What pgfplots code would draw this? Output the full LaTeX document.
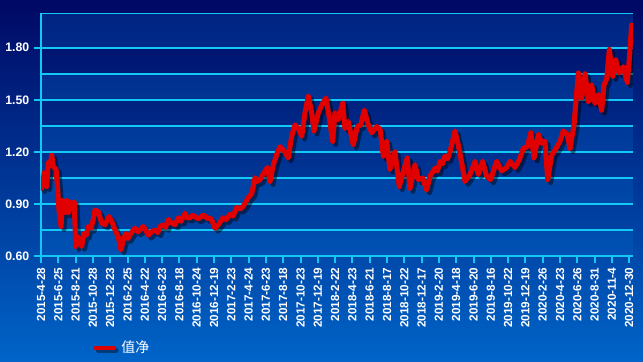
\documentclass[border=0pt]{standalone}
\usepackage{pgfplots}
\usepackage{pgfplotstable}
\pgfplotsset{compat=1.18}
\usepackage{fontspec}
\setmainfont{Liberation Sans}
\newfontfamily\cjk{Noto Sans CJK SC}
\definecolor{gridc}{RGB}{20,200,245}
\definecolor{bgtop}{RGB}{0,8,100}
\definecolor{bgbot}{RGB}{0,100,200}
\definecolor{band}{RGB}{0,110,210}
\definecolor{linered}{RGB}{225,0,0}

\pgfplotstableread{
x y
0.00 1.04
0.04 0.99
0.19 1.08
0.33 1.00
0.42 1.14
0.52 1.12
0.62 1.18
0.71 1.115
0.87 1.10
0.97 0.98
1.04 0.865
1.16 0.77
1.23 0.92
1.39 0.85
1.49 0.92
1.58 0.85
1.73 0.91
1.87 0.885
1.92 0.91
2.01 0.655
2.16 0.71
2.35 0.655
2.50 0.73
2.62 0.72
2.73 0.77
2.89 0.76
3.02 0.81
3.12 0.865
3.31 0.855
3.51 0.79
3.70 0.78
3.93 0.827
4.09 0.80
4.28 0.75
4.47 0.71
4.62 0.635
4.76 0.69
4.90 0.73
5.02 0.70
5.14 0.72
5.30 0.745
5.43 0.76
5.60 0.74
5.72 0.75
5.91 0.77
6.05 0.75
6.20 0.72
6.40 0.74
6.59 0.75
6.75 0.735
6.88 0.77
7.07 0.78
7.20 0.765
7.36 0.81
7.55 0.79
7.75 0.78
7.94 0.82
8.10 0.80
8.32 0.846
8.45 0.82
8.61 0.82
8.75 0.835
8.90 0.827
9.05 0.815
9.19 0.82
9.35 0.835
9.48 0.83
9.62 0.815
9.77 0.82
9.90 0.80
10.06 0.76
10.25 0.78
10.52 0.82
10.70 0.81
10.92 0.84
11.10 0.83
11.31 0.88
11.50 0.87
11.68 0.885
11.97 0.935
12.18 0.96
12.37 1.05
12.50 1.03
12.66 1.04
12.89 1.08
13.08 1.11
13.24 1.03
13.43 1.125
13.66 1.195
13.82 1.23
14.10 1.20
14.29 1.165
14.49 1.29
14.68 1.355
14.87 1.335
15.07 1.29
15.26 1.425
15.45 1.52
15.65 1.425
15.78 1.32
16.03 1.425
16.23 1.47
16.47 1.51
16.66 1.40
16.86 1.26
16.99 1.425
17.18 1.385
17.44 1.48
17.57 1.335
17.76 1.375
18.05 1.24
18.28 1.345
18.48 1.355
18.69 1.44
18.92 1.355
19.12 1.31
19.40 1.345
19.60 1.33
19.79 1.175
19.98 1.26
20.17 1.10
20.46 1.20
20.71 1.00
20.91 1.075
21.17 1.165
21.33 0.99
21.62 1.125
21.81 1.04
22.06 1.05
22.29 0.98
22.49 1.06
22.77 1.105
22.92 1.09
23.06 1.145
23.20 1.13
23.35 1.175
23.50 1.16
23.64 1.20
23.93 1.32
24.12 1.24
24.32 1.135
24.51 1.03
24.80 1.07
25.09 1.145
25.28 1.07
25.53 1.145
25.76 1.06
25.99 1.04
26.34 1.145
26.63 1.09
26.92 1.11
27.11 1.145
27.40 1.11
27.65 1.155
27.88 1.22
28.11 1.23
28.31 1.31
28.50 1.165
28.75 1.30
28.94 1.25
29.13 1.26
29.29 1.04
29.52 1.18
29.77 1.22
30.00 1.26
30.19 1.32
30.42 1.30
30.58 1.22
30.81 1.355
30.92 1.49
31.06 1.655
31.25 1.51
31.45 1.65
31.64 1.49
31.83 1.585
32.02 1.48
32.21 1.53
32.41 1.44
32.54 1.585
32.70 1.62
32.85 1.79
33.05 1.635
33.22 1.73
33.41 1.655
33.66 1.69
33.89 1.60
34.01 1.74
34.14 1.93
}\navtable

\begin{document}
\begin{tikzpicture}
\shade[top color=bgtop, bottom color=bgbot] (0,0) rectangle (482.25pt,270.75pt);
% alternating bands of the plot area (0.15 steps, 13.018pt per 0.1)
\fill[band, opacity=0.25] (30.75pt,78.75pt) rectangle (474.75pt,98.28pt);
\fill[band, opacity=0.25] (30.75pt,117.80pt) rectangle (474.75pt,137.33pt);
\fill[band, opacity=0.25] (30.75pt,156.86pt) rectangle (474.75pt,176.38pt);
\fill[band, opacity=0.25] (30.75pt,195.91pt) rectangle (474.75pt,215.44pt);
\fill[band, opacity=0.25] (30.75pt,234.96pt) rectangle (474.75pt,261.00pt);
\begin{axis}[
  at={(30.75pt,78.75pt)}, anchor=south west,
  scale only axis, width=444pt, height=182.25pt,
  xmin=0, xmax=34.22, ymin=0.6, ymax=2.0,
  axis x line*=bottom, axis y line*=left,
  axis line style={gridc, line width=2.2pt},
  xtick={0,...,34},
  xticklabels={2015-4-28,2015-6-25,2015-8-21,2015-10-28,2015-12-23,2016-2-25,2016-4-22,2016-6-23,2016-8-18,2016-10-24,2016-12-19,2017-2-23,2017-4-24,2017-6-23,2017-8-18,2017-10-23,2017-12-19,2018-2-22,2018-4-23,2018-6-21,2018-8-17,2018-10-22,2018-12-17,2019-2-20,2019-4-18,2019-6-20,2019-8-16,2019-10-22,2019-12-19,2020-2-26,2020-4-23,2020-6-26,2020-8-31,2020-11-4,2020-12-30},
  ytick={0.6,0.9,1.2,1.5,1.8},
  minor ytick={0.75,1.05,1.35,1.65},
  ymajorgrids, yminorgrids,
  major grid style={gridc, line width=1.3pt},
  minor grid style={gridc, line width=1.3pt},
  tick align=outside, major tick length=5.25pt, minor tick length=0pt,
  tick style={gridc, line width=1.5pt},
  xticklabel style={rotate=90, anchor=east, font=\bfseries\fontsize{8.8}{9}\selectfont, text=white},
  yticklabel style={font=\bfseries\fontsize{9.2}{10}\selectfont, text=white,
    /pgf/number format/fixed, /pgf/number format/fixed zerofill, /pgf/number format/precision=2, /pgf/number format/assume math mode=true},
  legend style={at={(0.088,-0.378)}, anchor=west, draw=none, fill=none, text=white,
    font=\cjk\fontsize{10.5}{12}\selectfont, inner sep=0pt},
  legend image code/.code={
    \draw[black, opacity=0.4, line width=3.5pt] (2pt,-2pt) -- (15.5pt,-2pt);
    \draw[linered, line width=3.5pt] (0pt,0pt) -- (13.5pt,0pt);},
]
\draw[gridc, line width=0.8pt] (axis cs:0,2.0) -- (axis cs:34.22,2.0);
\addplot[forget plot, black, opacity=0.45, line width=3.8pt, line join=round, xshift=2.2pt, yshift=-2.2pt] table {\navtable};
\addplot[linered, line width=3.8pt, line join=round, line cap=round] table {\navtable};
\addlegendentry{值净}
\end{axis}
\pgfresetboundingbox
\path (0,0) rectangle (482.25pt,270.75pt);
\end{tikzpicture}
\end{document}
